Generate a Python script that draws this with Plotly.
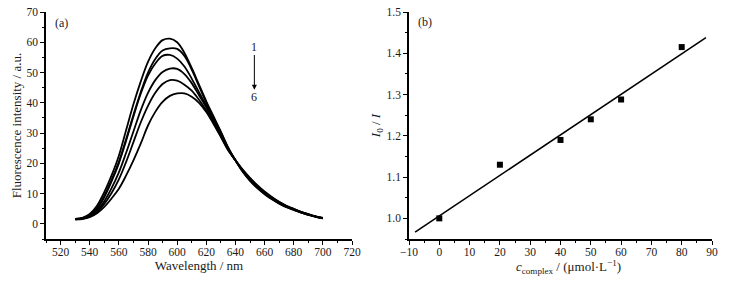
import numpy as np
import plotly.graph_objects as go

# ---------- Panel (a): fluorescence spectra ----------
wavelength = [530, 535, 540, 545, 550, 555, 560, 565, 570, 575, 580, 585, 590, 595,
              600, 605, 610, 615, 620, 625, 630, 635, 640, 645, 650, 655, 660, 665,
              670, 675, 680, 685, 690, 695, 700]

curve1 = [1.6, 2.0, 3.3, 6.0, 10.5, 16.0, 22.5, 31.0, 39.5, 47.0, 53.5, 58.0, 60.7, 61.2,
          60.0, 56.5, 51.5, 46.0, 40.5, 35.5, 30.5, 25.3, 21.0, 17.2, 14.2, 11.8, 9.8, 8.1,
          6.7, 5.5, 4.6, 3.7, 3.0, 2.3, 1.8]
curve2 = [1.6, 1.9, 3.0, 5.3, 9.3, 14.5, 20.5, 28.0, 36.0, 43.5, 50.0, 54.5, 57.3, 58.0,
          57.8, 55.5, 51.0, 45.5, 40.0, 35.0, 30.2, 25.1, 21.0, 17.3, 14.4, 12.0, 10.0, 8.3,
          6.8, 5.6, 4.7, 3.8, 3.0, 2.4, 1.8]
curve3 = [1.6, 1.9, 2.9, 5.0, 8.8, 14.0, 20.0, 27.5, 35.5, 43.0, 49.0, 53.0, 55.5, 55.8,
          54.6, 52.0, 48.0, 43.5, 39.0, 34.5, 29.8, 24.9, 21.0, 17.5, 14.6, 12.2, 10.2, 8.4,
          6.9, 5.7, 4.8, 3.8, 3.1, 2.4, 1.9]
curve4 = [1.5, 1.8, 2.6, 4.4, 7.5, 11.8, 17.0, 23.5, 30.5, 37.5, 43.3, 47.5, 50.2, 51.3,
          51.2, 49.5, 46.5, 42.5, 38.5, 34.0, 29.4, 24.7, 21.0, 17.6, 14.8, 12.4, 10.4, 8.6,
          7.1, 5.8, 4.9, 3.9, 3.1, 2.4, 1.9]
curve5 = [1.5, 1.7, 2.4, 4.0, 6.6, 10.2, 14.7, 20.5, 27.0, 33.5, 39.0, 43.3, 46.2, 47.5,
          47.3, 46.0, 44.0, 41.0, 37.5, 33.5, 29.0, 24.5, 21.0, 17.8, 15.0, 12.6, 10.5, 8.7,
          7.2, 5.9, 4.9, 4.0, 3.2, 2.5, 2.0]
curve6 = [1.5, 1.6, 2.2, 3.5, 5.6, 8.4, 11.6, 16.0, 21.0, 26.5, 32.5, 37.0, 40.3, 42.3,
          43.1, 43.1, 42.0, 40.0, 37.0, 33.0, 28.7, 24.3, 21.0, 17.9, 15.2, 12.8, 10.7, 8.9,
          7.3, 6.0, 5.0, 4.0, 3.2, 2.5, 2.0]
curves = [curve1, curve2, curve3, curve4, curve5, curve6]

# ---------- Panel (b): Stern-Volmer ----------
conc = [0, 20, 40, 50, 60, 80]
ratio = [1.000, 1.130, 1.190, 1.240, 1.288, 1.415]
fit_x = [-8, 88]

FONT = "Liberation Serif, Times New Roman, serif"
TXT = "#1a1a1a"
fig = go.Figure()

for c in curves:
    fig.add_trace(go.Scatter(x=wavelength, y=c, mode="lines",
                             line=dict(color="black", width=1.8, shape="spline"),
                             showlegend=False, xaxis="x", yaxis="y"))

slope, intercept = np.polyfit(conc, ratio, 1)
fit_y = [slope * v + intercept for v in fit_x]
fig.add_trace(go.Scatter(x=fit_x, y=fit_y, mode="lines",
                         line=dict(color="black", width=1.6),
                         showlegend=False, xaxis="x2", yaxis="y2"))
fig.add_trace(go.Scatter(x=conc, y=ratio, mode="markers",
                         marker=dict(symbol="square", size=6, color="black"),
                         showlegend=False, xaxis="x2", yaxis="y2"))

axis_common = dict(showline=True, linecolor="black", linewidth=1.5,
                   ticks="outside", ticklen=4, tickwidth=1.2, tickcolor="black",
                   showgrid=False, zeroline=False, mirror=False,
                   tickfont=dict(family=FONT, size=11.5, color=TXT),
                   ticklabeloverflow="allow", automargin=False)

W, H = 730, 283
ydom = [1 - 239 / H, 1 - 12 / H]
fig.update_layout(
    width=W, height=H, margin=dict(l=0, r=0, t=0, b=0),
    paper_bgcolor="white", plot_bgcolor="white",
    font=dict(family=FONT, size=11, color=TXT),
    xaxis=dict(domain=[46 / W, 352 / W], range=[510, 720], dtick=20, tick0=520,
               minor=dict(ticks="outside", ticklen=2, dtick=10, tick0=510, tickcolor="black"),
               ticklabelstandoff=-3,
               title=dict(text="Wavelength / nm", font=dict(family=FONT, size=13, color=TXT), standoff=4),
               anchor="y", **axis_common),
    yaxis=dict(domain=ydom, range=[-5, 70], dtick=10, tick0=0,
               minor=dict(ticks="outside", ticklen=2, dtick=5, tick0=0, tickcolor="black"),
               title=dict(text="Fluorescence intensity / a.u.", font=dict(family=FONT, size=13, color=TXT), standoff=2),
               anchor="x", **axis_common),
    xaxis2=dict(domain=[409 / W, 712 / W], range=[-10, 90], dtick=10, tick0=0,
                minor=dict(ticks="outside", ticklen=2, dtick=5, tick0=0, tickcolor="black"),
                ticklabelstandoff=-3,
                anchor="y2", **axis_common),
    yaxis2=dict(domain=ydom, range=[0.95, 1.5], dtick=0.1, tick0=1.0, tickformat=".1f",
                minor=dict(ticks="outside", ticklen=2, dtick=0.05, tick0=1.0, tickcolor="black"),
                title=dict(text="<i>I</i><sub>0</sub> / <i>I</i>", font=dict(family=FONT, size=13, color=TXT), standoff=3),
                anchor="x2", **axis_common),
)

# x title of panel (b), slightly right of centre as in the original
fig.add_annotation(x=42.5, y=1 - 267 / H, xref="x2", yref="paper", yanchor="middle", xanchor="center",
                   text="<i>c</i><sub>complex</sub> / (μmol·L<sup>−1</sup>)", showarrow=False,
                   font=dict(family=FONT, size=13, color=TXT))

fig.add_annotation(x=520.5, y=66.4, xref="x", yref="y", text="(a)", showarrow=False,
                   font=dict(family=FONT, size=12, color=TXT))
fig.add_annotation(x=-4.7, y=1.476, xref="x2", yref="y2", text="(b)", showarrow=False,
                   font=dict(family=FONT, size=12, color=TXT))
fig.add_annotation(x=653, y=58.4, xref="x", yref="y", text="1", showarrow=False,
                   font=dict(family=FONT, size=12, color=TXT))
fig.add_annotation(x=653, y=41.9, xref="x", yref="y", text="6", showarrow=False,
                   font=dict(family=FONT, size=12, color=TXT))
fig.add_annotation(x=653, y=44.3, ax=653, ay=56.3, xref="x", yref="y", axref="x", ayref="y",
                   text="", showarrow=True, arrowhead=2, arrowsize=1, arrowwidth=1,
                   arrowcolor="black", standoff=0, startstandoff=0)

# remove the default 8px page margin so the figure fills the window exactly
fig.write_html("out.html",
               config={"displayModeBar": False},
               post_script="document.body.style.margin='0';document.body.style.overflow='hidden';")
